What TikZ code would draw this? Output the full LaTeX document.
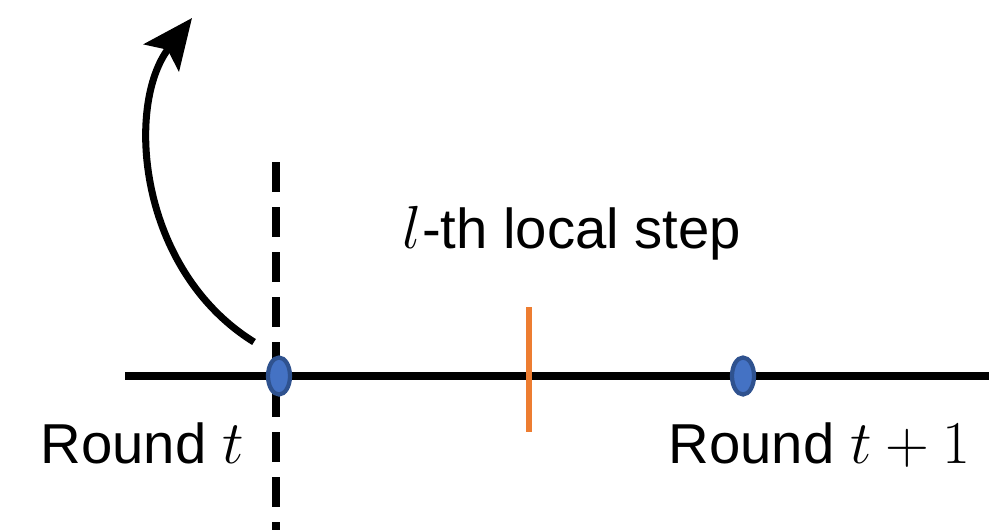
\documentclass[tikz,border=0pt]{standalone}
\usepackage{fontspec}
\setmainfont{Liberation Sans}
\usetikzlibrary{arrows.meta,shapes.geometric}
\definecolor{dotblue}{HTML}{4472C4}
\definecolor{dotedge}{HTML}{2F528F}
\definecolor{steporange}{HTML}{ED7D31}
\tikzset{
  roundpt/.style={ellipse, draw=dotedge, fill=dotblue, line width=1.2pt,
    minimum width=0.22cm, minimum height=0.37cm, inner sep=0pt},
  lbl/.style={font=\fontsize{16}{19}\selectfont, inner sep=0pt}
}
\begin{document}
\begin{tikzpicture}[x=0.01cm, y=-0.01cm]
  \useasboundingbox (0,0) rectangle (989,530);

  %% time line
  \draw[line width=2pt] (125,376) -- (989,376);
  \draw[line width=2pt, dash pattern=on 0.3cm off 0.15cm] (276,162) -- (276,530);
  \draw[steporange, line width=1.5pt] (529,307) -- (529,432);

  %% rounds
  \node[roundpt] (rt) at (279,376) {};
  \node[roundpt] (rtt) at (743,376) {};

  %% labels
  \node[lbl, anchor=base] (step) at (572,248) {$l$-th local step};
  \node[lbl, anchor=base west] (lrt) at (40,463) {Round $t$};
  \node[lbl, anchor=base west] (lrtt) at (668,463) {Round $t+1$};

  %% arrow
  \coordinate (from) at (254,342);
  \coordinate (up) at (192,18);
  \draw[line width=2pt, -{Stealth[length=0.5cm, width=0.44cm, inset=0.1cm]}]
    (from) .. controls (138,270) and (125,105) .. (up);
\end{tikzpicture}
\end{document}
